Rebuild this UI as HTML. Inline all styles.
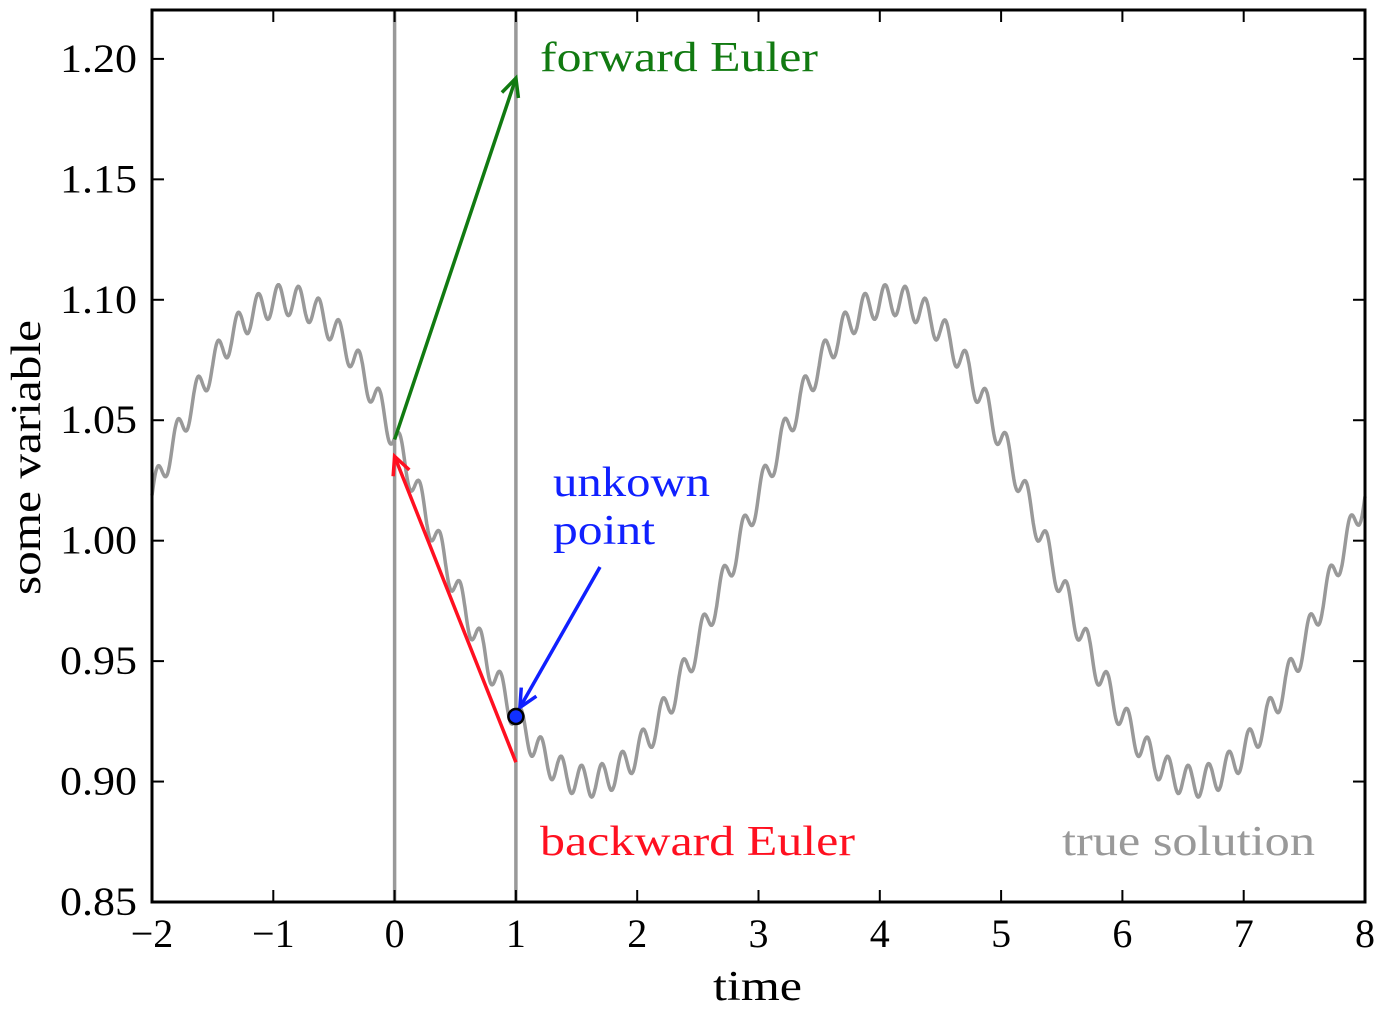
<!DOCTYPE html>
<html><head><meta charset="utf-8"><style>
body{margin:0;background:#fff}
svg text{font-family:"Liberation Serif",serif}
</style></head><body>
<svg id="chart" width="1381" height="1009" xmlns="http://www.w3.org/2000/svg"></svg>
<script>
const xTicks=[-2,-1,0,1,2,3,4,5,6,7,8];
const yTicks=[0.85,0.90,0.95,1.00,1.05,1.10,1.15,1.20];
const yTickLabels=["0.85","0.90","0.95","1.00","1.05","1.10","1.15","1.20"];
const waveMean=[1.0];
const waveAmp=[0.1,0.0065];
const wavePeriod=[5,0.1667];
const wavePhase=[0.9,0.0];
const forwardEuler=[[0,1.042],[1,1.192]];
const backwardEuler=[[1,0.908],[0,1.035]];
const unknownPoint=[1,0.927];
const xMin=-2,xMax=8,yMin=0.85,yMax=1.2203;
const L=152,R=1365,T=10,B=902;
const X=v=>L+(v-xMin)/(xMax-xMin)*(R-L);
const Y=v=>B-(v-yMin)/(yMax-yMin)*(B-T);
const svg=document.getElementById('chart');
const NS='http://www.w3.org/2000/svg';
function mk(tag,attrs,parent){const e=document.createElementNS(NS,tag);for(const k in attrs)e.setAttribute(k,attrs[k]);(parent||svg).appendChild(e);return e;}
function f(t){return waveMean[0]+waveAmp[0]*Math.cos(2*Math.PI*(t+wavePhase[0])/wavePeriod[0])+waveAmp[1]*Math.sin(2*Math.PI*(t+wavePhase[1])/wavePeriod[1]);}
[0,1].forEach(v=>{const l=mk('line',{x1:X(v),x2:X(v),y1:T,y2:B,stroke:'#999',"stroke-width":3.5});

});
let d='';for(let i=0;i<=2000;i++){const t=xMin+(xMax-xMin)*i/2000;d+=(i?'L':'M')+X(t).toFixed(1)+','+Y(f(t)).toFixed(1);}
const cur=mk('path',{d:d,fill:'none',stroke:'#999',"stroke-width":3.5});


function arrow(p,color,name){const x1=X(p[0][0]),y1=Y(p[0][1]),x2=X(p[1][0]),y2=Y(p[1][1]);
const g=mk('g',{});
mk('line',{x1,y1,x2,y2,stroke:color,"stroke-width":3.5},g);
const a=Math.atan2(y2-y1,x2-x1),h=20,s=0.45;
mk('path',{d:`M${x2-h*Math.cos(a-s)},${y2-h*Math.sin(a-s)}L${x2},${y2}L${x2-h*Math.cos(a+s)},${y2-h*Math.sin(a+s)}`,fill:'none',stroke:color,"stroke-width":3.5},g);}
arrow(forwardEuler,'#117a11','forward-euler-arrow');
arrow(backwardEuler,'#ff1020','backward-euler-arrow');
(function(){const x1=600,y1=567,x2=X(unknownPoint[0])+4,y2=Y(unknownPoint[1])-9;
const g=mk('g',{});
mk('line',{x1,y1,x2,y2,stroke:'#1020ff',"stroke-width":3.5},g);
const a=Math.atan2(y2-y1,x2-x1),h=20,s=0.45;
mk('path',{d:`M${x2-h*Math.cos(a-s)},${y2-h*Math.sin(a-s)}L${x2},${y2}L${x2-h*Math.cos(a+s)},${y2-h*Math.sin(a+s)}`,fill:'none',stroke:'#1020ff',"stroke-width":3.5},g);})();
const pt=mk('circle',{cx:X(unknownPoint[0]),cy:Y(unknownPoint[1]),r:7.5,fill:'#1030ff',stroke:'#000',"stroke-width":2.5});


const fr=mk('rect',{x:L,y:T,width:R-L,height:B-T,fill:'none',stroke:'#000',"stroke-width":3});


xTicks.forEach(v=>{const x=X(v);
mk('line',{x1:x,x2:x,y1:B,y2:B-12,stroke:'#000',"stroke-width":2});
mk('line',{x1:x,x2:x,y1:T,y2:T+12,stroke:'#000',"stroke-width":2});
const t=mk('text',{x:x,y:947,"font-size":40,"text-anchor":"middle"});t.textContent=v<0?'\u2212'+(-v):String(v);

});
yTicks.forEach((v,i)=>{const y=Y(v);
mk('line',{x1:L,x2:L+12,y1:y,y2:y,stroke:'#000',"stroke-width":2});
mk('line',{x1:R,x2:R-12,y1:y,y2:y,stroke:'#000',"stroke-width":2});
const t=mk('text',{x:60,y:y+13,"font-size":40,textLength:77,lengthAdjust:'spacingAndGlyphs'});t.textContent=yTickLabels[i];

});
function txt(s,x,y,fill,name,w,extra){const t=mk('text',Object.assign({x,y,"font-size":42,fill,textLength:w,lengthAdjust:'spacingAndGlyphs'},extra||{}));t.textContent=s;
return t;}
txt('time',713,1000,'#000','x-axis-title',89);
txt('some variable',-240,40,'#000','y-axis-title',275,{transform:'rotate(-90)',x:-595});
txt('forward Euler',540,71,'#117a11','forward-euler-label',278);
txt('backward Euler',540,855,'#ff1020','backward-euler-label',315);
txt('unkown',553,496,'#1020ff','unknown-label-line1',157);
txt('point',553,544,'#1020ff','unknown-label-line2',102);
txt('true solution',1062,855,'#999','true-solution-label',253);
</script>
</body></html>
